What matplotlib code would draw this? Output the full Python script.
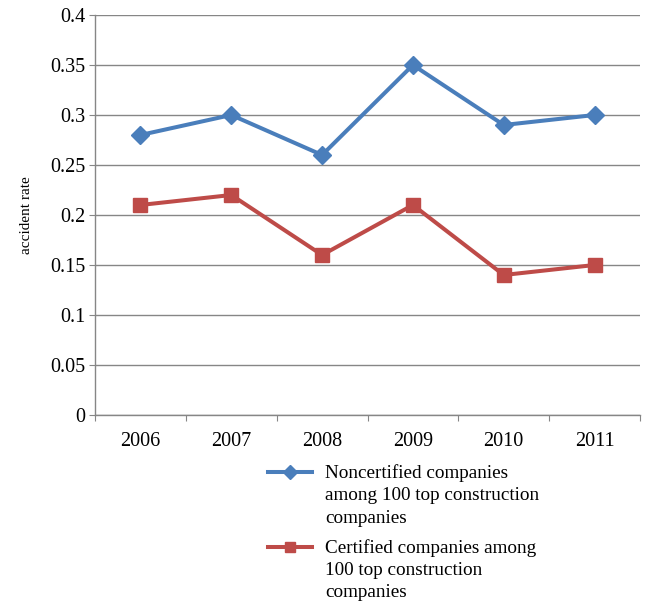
import matplotlib
matplotlib.use('Agg')
import matplotlib.pyplot as plt
from matplotlib.legend_handler import HandlerLine2D
import numpy as np

years = ['2006', '2007', '2008', '2009', '2010', '2011']
noncertified = [0.28, 0.30, 0.26, 0.35, 0.29, 0.30]
certified = [0.21, 0.22, 0.16, 0.21, 0.14, 0.15]

label_non = 'Noncertified companies\namong 100 top construction\ncompanies'
label_cert = 'Certified companies among\n100 top construction\ncompanies'


class TopLineHandler(HandlerLine2D):
    """Put the legend handle next to the first line of a multi-line label."""
    def __init__(self, shift, **kw):
        super().__init__(**kw)
        self.shift = shift

    def create_artists(self, legend, orig_handle, xdescent, ydescent,
                       width, height, fontsize, trans):
        return super().create_artists(legend, orig_handle, xdescent,
                                      ydescent - 2 * self.shift, width,
                                      height, fontsize, trans)


plt.rcParams['font.family'] = 'Liberation Serif'
grey = '#868686'

fig = plt.figure(figsize=(6.47, 6.03), dpi=100)
ax = fig.add_axes([95 / 647, 1 - 415 / 603, 545 / 647, 400 / 603])

x = np.arange(len(years))
l1, = ax.plot(x, noncertified, color='#4A7EBB', lw=2.9, marker='D',
              markersize=9, label=label_non)
l2, = ax.plot(x, certified, color='#BE4B48', lw=2.9, marker='s',
              markersize=10, label=label_cert)

ax.set_xlim(-0.5, len(years) - 0.5)
ax.set_ylim(0, 0.4)
ax.set_yticks(np.arange(0, 0.401, 0.05))
ax.set_yticklabels(['0', '0.05', '0.1', '0.15', '0.2', '0.25', '0.3', '0.35', '0.4'])
ax.set_xticks(np.arange(-0.5, len(years), 1.0))
ax.set_xticklabels([])
ax.set_xticks(x, minor=True)
ax.set_xticklabels(years, minor=True)
ax.tick_params(axis='x', which='minor', length=0, pad=12, labelsize=14.5)
ax.tick_params(axis='x', which='major', direction='out', length=4, color=grey)
ax.tick_params(axis='y', direction='out', length=4, color=grey, pad=3, labelsize=14.5)

ax.yaxis.grid(True, color=grey, lw=1)
ax.set_axisbelow(True)
for s in ['top', 'right']:
    ax.spines[s].set_visible(False)
for s in ['left', 'bottom']:
    ax.spines[s].set_color(grey)
    ax.spines[s].set_linewidth(1)

ax.set_ylabel('accident rate', fontsize=11, labelpad=12)

shift = 16.6
leg = fig.legend(handles=[l1, l2], loc='upper left',
                 bbox_to_anchor=(251 / 647, 1 - 447 / 603), frameon=False,
                 fontsize=13.8, handlelength=2.3, handletextpad=0.65,
                 labelspacing=0.65, markerscale=0.75,
                 handler_map={l1: TopLineHandler(shift), l2: TopLineHandler(shift)})
for t in leg.get_texts():
    t.set_linespacing(1.4)

fig.savefig('out.png', dpi=100)
